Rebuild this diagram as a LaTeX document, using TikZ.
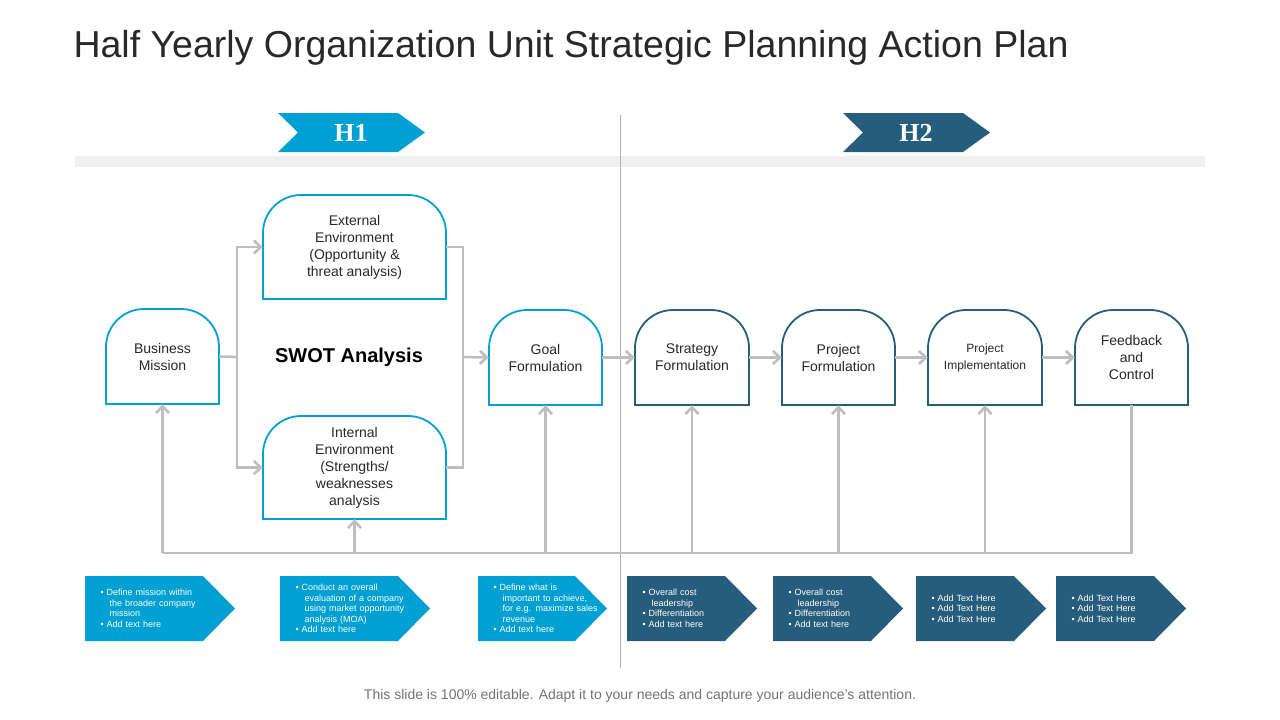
\documentclass[tikz,border=0pt]{standalone}
\usepackage{fontspec}
\setmainfont{Liberation Sans}
\newfontfamily\markfont{Liberation Serif}
\usetikzlibrary{arrows.meta}
\definecolor{cyanblue}{RGB}{0,160,210}
\definecolor{darkblue}{RGB}{38,92,124}
\definecolor{linegray}{RGB}{190,190,190}
\definecolor{titlegray}{RGB}{40,40,40}
\tikzset{
	conn/.style={draw=linegray, line width=2.6pt},
	arr/.style={conn, -{Straight Barb[length=7pt,width=13pt]}},
	boxtext/.style={align=center, font=\fontsize{14}{17}\selectfont, text=titlegray},
	tiptext/.style={align=left, font=\fontsize{9}{10.5}\selectfont, text=white, text width=110pt}
}
% rounded-top box: name, left, top, right, bottom, colour, text
\newcommand{\topbox}[7]{
	\draw[#6, line width=1.8pt, fill=white, rounded corners=38pt] (#2,#5) -- (#2,#3) -- (#4,#3) [sharp corners] -- (#4,#5) -- cycle;
	\node[boxtext, minimum width={#4-#2}, minimum height={#5-#3}, inner sep=0pt] (#1) at ({(#2+#4)/2},{(#3+#5)/2}) {#7};
}
% bottom chevron: name, left, right, colour, text
\newcommand{\tipbox}[5]{
	\fill[#4] (#2,576) -- (#3-32,576) -- (#3,608.5) -- (#3-32,641) -- (#2,641) -- cycle;
	\node[tiptext, anchor=west] (#1) at (#2+12,608.5) {#5};
}
\newcommand{\pt}{\textbullet\ }
\begin{document}
\begin{tikzpicture}[x=1pt, y=-1pt]
	\useasboundingbox (0,0) rectangle (1280,720);
	%title
	\node[anchor=west, text=titlegray, font=\fontsize{37.5}{44}\selectfont] (title) at (70,48) {Half Yearly Organization Unit Strategic Planning Action Plan};
	%band and divider
	\fill[black!6] (75,156) rectangle (1205,167);
	\draw[black!30, line width=0.8pt] (620,115) -- (620,668);
	%period markers
	\fill[cyanblue] (278,113) -- (398,113) -- (425,132.5) -- (398,152) -- (278,152) -- (298,132.5) -- cycle;
	\node[font=\fontsize{26}{30}\selectfont\bfseries\markfont, text=white] (h1) at (351,132.5) {H1};
	\fill[darkblue] (843,113) -- (963,113) -- (990,132.5) -- (963,152) -- (843,152) -- (863,132.5) -- cycle;
	\node[font=\fontsize{26}{30}\selectfont\bfseries\markfont, text=white] (h2) at (916,132.5) {H2};
	%boxes
	\topbox{mission}{106}{309}{219}{404}{cyanblue}{Business\\Mission}
	\topbox{extenv}{263}{195}{446}{299}{cyanblue}{External\\Environment\\(Opportunity \&\\threat analysis)}
	\topbox{intenv}{263}{416}{446}{519}{cyanblue}{Internal\\Environment\\(Strengths/\\weaknesses\\analysis}
	\topbox{goal}{489}{310}{602}{405}{cyanblue}{Goal\\Formulation}
	\topbox{strategy}{635}{310}{749}{405}{darkblue}{Strategy\\Formulation}
	\topbox{projform}{782}{310}{895}{405}{darkblue}{Project\\Formulation}
	\topbox{projimpl}{928}{310}{1042}{405}{darkblue}{\fontsize{12}{15}\selectfont Project\\\fontsize{12}{15}\selectfont Implementation}
	\topbox{feedback}{1075}{310}{1188}{405}{darkblue}{Feedback\\and\\Control}
	\node[font=\fontsize{20}{24}\selectfont\bfseries, text=black] (swot) at (349,357) {SWOT Analysis};
	%connectors
	\coordinate (split) at (237,357);
	\coordinate (merge) at (463,357);
	\draw[conn] (mission.east) -- (split);
	\draw[arr] (split) |- (extenv.west);
	\draw[arr] (split) |- (intenv.west);
	\draw[conn] (extenv.east) -| (merge);
	\draw[conn] (intenv.east) -| (merge);
	\draw[arr] (merge) -- (goal.west);
	\draw[arr] (goal.east) -- (strategy.west);
	\draw[arr] (strategy.east) -- (projform.west);
	\draw[arr] (projform.east) -- (projimpl.west);
	\draw[arr] (projimpl.east) -- (feedback.west);
	%feedback bus
	\coordinate (busleft) at (162.5,553);
	\coordinate (busright) at (1131.5,553);
	\draw[conn] (feedback.south) -- (busright) -- (busleft);
	\foreach \target in {mission, intenv, goal, strategy, projform, projimpl}
	\draw[arr] (\target.south |- busleft) -- (\target.south);
	%notes
	\tipbox{notea}{85}{235}{cyanblue}{\pt Define mission within\\\ \ \ the broader company\\\ \ \ mission\\\pt Add text here}
	\tipbox{noteb}{280}{430}{cyanblue}{\pt Conduct an overall\\\ \ \ evaluation of a company\\\ \ \ using market opportunity\\\ \ \ analysis (MOA)\\\pt Add text here}
	\tipbox{notec}{478}{607}{cyanblue}{\pt Define what is\\\ \ \ important to achieve,\\\ \ \ for e.g. maximize sales\\\ \ \ revenue\\\pt Add text here}
	\tipbox{noted}{627}{757}{darkblue}{\pt Overall cost\\\ \ \ leadership\\\pt Differentiation\\\pt Add text here}
	\tipbox{notee}{773}{903}{darkblue}{\pt Overall cost\\\ \ \ leadership\\\pt Differentiation\\\pt Add text here}
	\tipbox{notef}{916}{1046}{darkblue}{\pt Add Text Here\\\pt Add Text Here\\\pt Add Text Here}
	\tipbox{noteg}{1056}{1186}{darkblue}{\pt Add Text Here\\\pt Add Text Here\\\pt Add Text Here}
	%footer
	\node[text=black!55, font=\fontsize{14}{17}\selectfont] (footer) at (640,696) {This slide is 100\% editable. Adapt it to your needs and capture your audience's attention.};
\end{tikzpicture}
\end{document}
